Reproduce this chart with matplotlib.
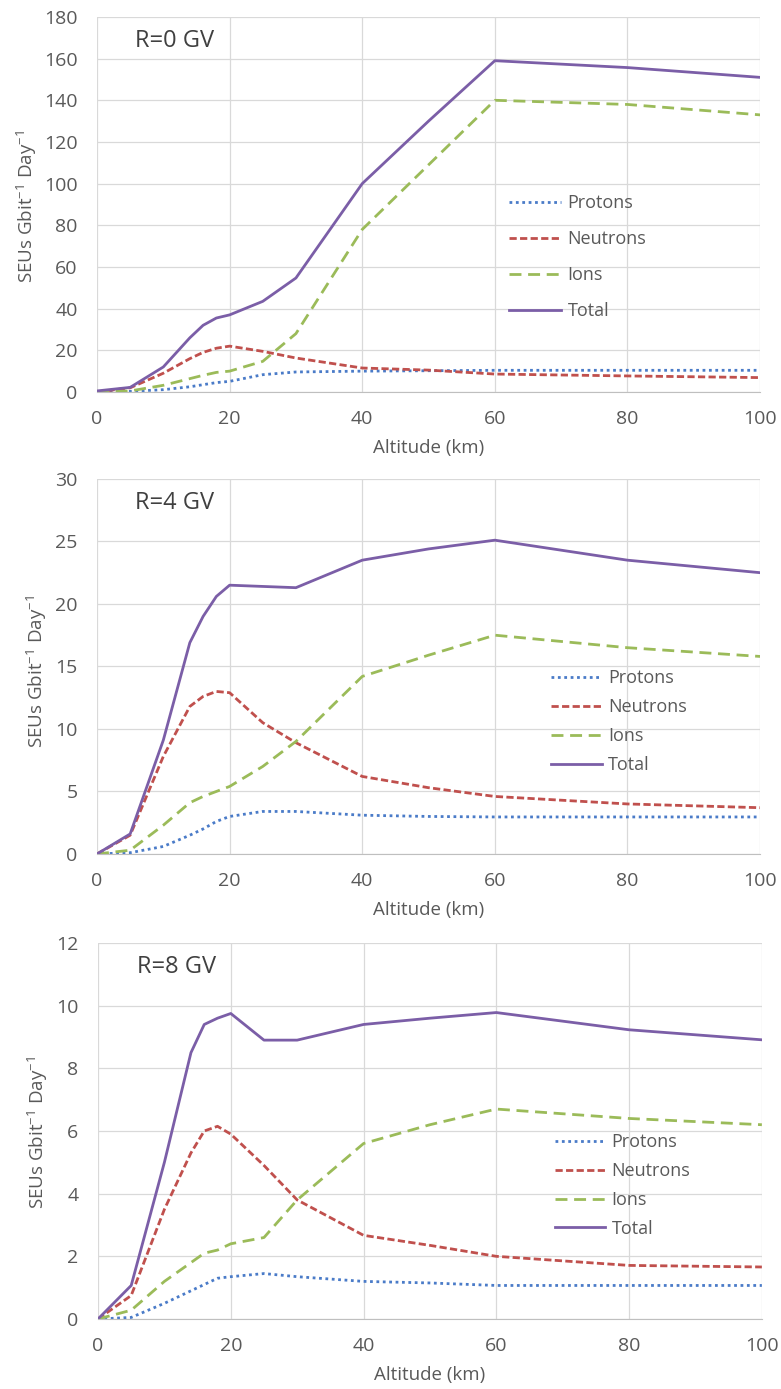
import numpy as np
import matplotlib
matplotlib.use("Agg")
import matplotlib.pyplot as plt

plt.rcParams['font.family'] = ['Open Sans', 'DejaVu Sans']

altitude = [0, 5, 10, 14, 16, 18, 20, 25, 30, 40, 50, 60, 80, 100]

# R = 0 GV
protons_0 = [0, 0.3, 1.1, 2.5, 3.5, 4.5, 5.1, 8.3, 9.6, 10.0, 10.2, 10.4, 10.4, 10.4]
neutrons_0 = [0, 2.0, 9.0, 16.0, 19.0, 21.0, 22.0, 19.5, 16.3, 11.5, 10.5, 8.6, 7.7, 6.9]
ions_0 = [0, 0.5, 3.2, 6.4, 8.0, 9.4, 10.0, 14.7, 28.0, 78.0, 109.0, 140.0, 138.0, 133.0]
total_0 = [0.5, 2.2, 12.0, 26.0, 32.0, 35.5, 37.0, 43.5, 54.7, 100.0, 130.0, 159.0, 155.7, 151.0]

# R = 4 GV
protons_4 = [0, 0.1, 0.6, 1.5, 2.0, 2.6, 3.0, 3.4, 3.4, 3.1, 3.0, 2.96, 2.96, 2.96]
neutrons_4 = [0, 1.5, 7.8, 11.8, 12.6, 13.0, 12.9, 10.5, 8.9, 6.2, 5.3, 4.6, 4.0, 3.7]
ions_4 = [0, 0.3, 2.3, 4.1, 4.6, 5.0, 5.4, 7.0, 9.0, 14.2, 15.9, 17.5, 16.5, 15.8]
total_4 = [0, 1.6, 9.1, 16.9, 19.0, 20.6, 21.5, 21.4, 21.3, 23.5, 24.4, 25.1, 23.5, 22.5]

# R = 8 GV
protons_8 = [0, 0.05, 0.5, 0.9, 1.1, 1.3, 1.35, 1.45, 1.35, 1.2, 1.15, 1.07, 1.07, 1.07]
neutrons_8 = [0, 0.75, 3.5, 5.3, 6.0, 6.15, 5.9, 4.9, 3.8, 2.67, 2.35, 2.0, 1.71, 1.66]
ions_8 = [0, 0.28, 1.2, 1.8, 2.1, 2.2, 2.4, 2.6, 3.8, 5.6, 6.2, 6.7, 6.4, 6.2]
total_8 = [0, 1.07, 5.0, 8.5, 9.4, 9.6, 9.75, 8.9, 8.9, 9.4, 9.6, 9.78, 9.23, 8.91]

panel_titles = ['R=0 GV', 'R=4 GV', 'R=8 GV']
y_ranges = [(180, 20), (30, 5), (12, 2)]

TEXT = '#595959'
GRID = '#d9d9d9'


def draw_panel(ax, protons, neutrons, ions, total, title, ymax, ystep,
               ylabel_pos, legend_anchor, labelspacing, handlelength):
    lw = 2.0
    ax.plot(altitude, protons, color='#4a7bc8', lw=lw, dashes=(1.0, 1.3),
            label='Protons')
    ax.plot(altitude, neutrons, color='#c0504d', lw=lw, dashes=(2.6, 1.2),
            label='Neutrons')
    ax.plot(altitude, ions, color='#9bbb59', lw=lw, dashes=(4.3, 2.4),
            label='Ions')
    ax.plot(altitude, total, color='#7b5ea7', lw=lw, label='Total')

    ax.set_xlim(0, 100)
    ax.set_ylim(0, ymax)
    ax.set_xticks(np.arange(0, 101, 20))
    ax.set_yticks(np.arange(0, ymax + 0.01, ystep))
    ax.grid(True, color=GRID, lw=0.9)
    ax.set_axisbelow(True)
    for side in ['top', 'right', 'left']:
        ax.spines[side].set_visible(False)
    ax.spines['bottom'].set_color('#bfbfbf')
    ax.tick_params(length=0, labelsize=14, labelcolor=TEXT)
    ax.tick_params(axis='x', pad=13)
    ax.tick_params(axis='y', pad=14)

    ax.set_xlabel('Altitude (km)', fontsize=13.5, color=TEXT)
    ax.xaxis.set_label_coords(0.5, -0.125)
    ax.set_ylabel(r'SEUs Gbit$^{\mathregular{-1}}$ Day$^{\mathregular{-1}}$',
                  fontsize=13.5, color=TEXT)
    ax.yaxis.set_label_coords(*ylabel_pos)

    ax.text(0.058, 0.935, title, transform=ax.transAxes, fontsize=17,
            color='#404040', ha='left', va='center')

    ax.legend(loc='center left', bbox_to_anchor=legend_anchor, frameon=False,
              fontsize=13, handlelength=handlelength, handletextpad=0.35,
              labelspacing=labelspacing, borderpad=0, borderaxespad=0,
              labelcolor=TEXT)


fig = plt.figure(figsize=(7.81, 13.89), dpi=100)
ax1 = fig.add_axes([0.1242, 0.7178, 0.849, 0.27])
ax2 = fig.add_axes([0.1242, 0.3852, 0.849, 0.27])
ax3 = fig.add_axes([0.1255, 0.0504, 0.850, 0.2707])

draw_panel(ax1, protons_0, neutrons_0, ions_0, total_0, panel_titles[0],
           *y_ranges[0], (-0.088, 0.496), (0.621, 0.359), 1.0, 2.9)
draw_panel(ax2, protons_4, neutrons_4, ions_4, total_4, panel_titles[1],
           *y_ranges[1], (-0.073, 0.488), (0.685, 0.353), 0.6, 2.8)
draw_panel(ax3, protons_8, neutrons_8, ions_8, total_8, panel_titles[2],
           *y_ranges[2], (-0.073, 0.496), (0.688, 0.355), 0.6, 2.8)

fig.savefig('out.png', dpi=100)
